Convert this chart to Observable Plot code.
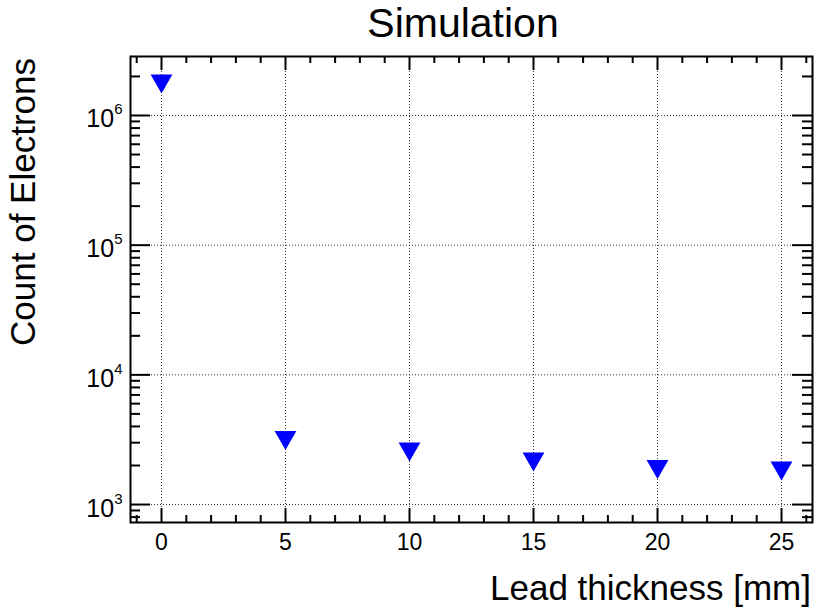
<!DOCTYPE html>
<html><head><meta charset="utf-8">
<script src="https://cdn.jsdelivr.net/npm/d3@7"></script>
<script src="https://cdn.jsdelivr.net/npm/@observablehq/plot@0.6"></script>
<style>body{margin:0;background:#fff} #chart{width:814px;height:612px}</style>
</head><body><div id="chart"></div>
<script>
// Data
const thickness = [0, 5, 10, 15, 20, 25];
const counts = [1.85e6, 3.3e3, 2.69e3, 2.25e3, 1.97e3, 1.92e3];
const xMajor = [0, 5, 10, 15, 20, 25];
const yMajor = [1e3, 1e4, 1e5, 1e6];
const yExponents = [3, 4, 5, 6];
const titleText = "Simulation";
const xLabel = "Lead thickness [mm]";
const yLabel = "Count of Electrons";

const data = thickness.map((t, i) => ({t, c: counts[i]}));
const xMinor = d3.range(-1, 27).filter(v => v % 5 !== 0);
const yDomain = [727, 2.85e6];
const yMinor = [];
for (let k = 2; k <= 6; k++) for (let m = 2; m <= 9; m++) {
  const v = m * Math.pow(10, k);
  if (v >= yDomain[0] && v <= yDomain[1]) yMinor.push(v);
}

const W = 814, H = 612, mT = 56, mR = 2, mB = 90, mL = 130;
const fw = W - mL - mR, fh = H - mT - mB;
const grid = {stroke: "#333", strokeWidth: 1, strokeDasharray: "1,2"};
const tk = {stroke: "black", strokeWidth: 2};

const svg = Plot.plot({
  width: W, height: H,
  marginTop: mT, marginRight: mR, marginBottom: mB, marginLeft: mL,
  style: {fontFamily: "'Liberation Sans', Arial, Helvetica, sans-serif", background: "white", color: "black"},
  x: {domain: [-1.25, 26.25]},
  y: {type: "log", domain: yDomain},
  marks: [
    Plot.ruleX(xMajor, {x: d => d, ...grid}),
    Plot.ruleY(yMajor, {y: d => d, ...grid}),
    // x ticks bottom & top
    Plot.tickX(xMajor, {x: d => d, insetTop: fh - 14, ...tk}),
    Plot.tickX(xMajor, {x: d => d, insetBottom: fh - 14, ...tk}),
    Plot.tickX(xMinor, {x: d => d, insetTop: fh - 7, ...tk}),
    Plot.tickX(xMinor, {x: d => d, insetBottom: fh - 7, ...tk}),
    // y ticks left & right
    Plot.tickY(yMajor, {y: d => d, insetRight: fw - 20, ...tk}),
    Plot.tickY(yMajor, {y: d => d, insetLeft: fw - 20, ...tk}),
    Plot.tickY(yMinor, {y: d => d, insetRight: fw - 10, ...tk}),
    Plot.tickY(yMinor, {y: d => d, insetLeft: fw - 10, ...tk}),
    Plot.dot(data, {x: "t", y: "c", symbol: "triangle", rotate: 180, r: 8.1, fill: "#0000ff"}),
    Plot.axisX(xMajor, {tickSize: 0, tickPadding: 11, fontSize: 23, tickFormat: d => String(d), label: null}),
    Plot.axisY(yMajor, {tickSize: 0, tickPadding: 8, fontSize: 25, dy: 4,
      tickFormat: d => "10^" + yExponents[yMajor.indexOf(d)], label: null}),
    Plot.frame({stroke: "black", strokeWidth: 2})
  ]
});

const sel = d3.select(svg);
sel.selectAll('g[aria-label="x-axis tick label"]').attr("font-size", 23);
sel.selectAll('g[aria-label="y-axis tick label"]').attr("font-size", 25);
// superscripts for y tick labels
sel.selectAll('g[aria-label="y-axis tick label"] text').each(function() {
  const s = d3.select(this);
  const parts = s.text().split("^");
  s.text(parts[0]);
  s.append("tspan").attr("font-size", 15).attr("dy", "-13").text(parts[1]);
});

sel.append("text").attr("x", 463).attr("y", 37).attr("text-anchor", "middle")
  .attr("font-size", 41).attr("fill", "black").text(titleText);
sel.append("text").attr("x", 811).attr("y", 600).attr("text-anchor", "end")
  .attr("font-size", 35).attr("fill", "black").text(xLabel);
sel.append("text").attr("transform", "translate(35,58) rotate(-90)").attr("text-anchor", "end")
  .attr("font-size", 35).attr("fill", "black").text(yLabel);

document.getElementById("chart").appendChild(svg);
</script>
</body></html>
